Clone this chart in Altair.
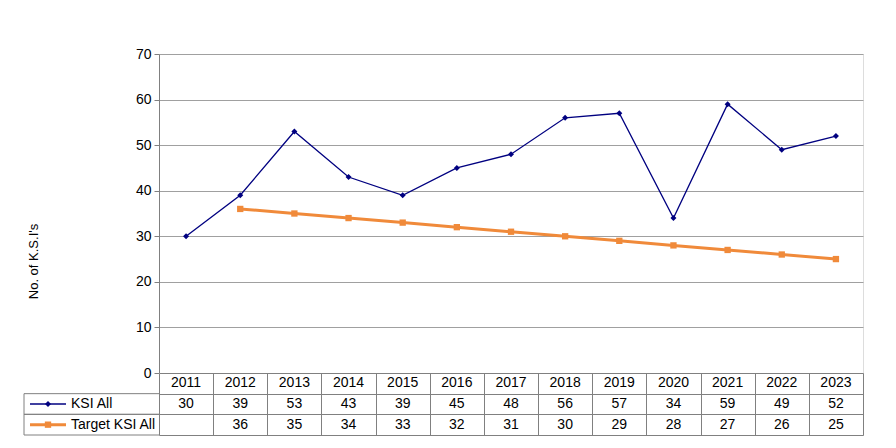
import altair as alt
import pandas as pd

years = [2011, 2012, 2013, 2014, 2015, 2016, 2017, 2018, 2019, 2020, 2021, 2022, 2023]
ksi_all = [30, 39, 53, 43, 39, 45, 48, 56, 57, 34, 59, 49, 52]
target_ksi = [None, 36, 35, 34, 33, 32, 31, 30, 29, 28, 27, 26, 25]
series_names = ["KSI All", "Target KSI All"]
y_ticks = [0, 10, 20, 30, 40, 50, 60, 70]

NAVY = "#000080"
ORANGE = "#F08A3A"
FONT = "Liberation Sans"
GRID = "#A0A0A0"
BORDER = "#808080"

W = 704
H = 319
TH = 62

df = pd.DataFrame({"year": [str(y) for y in years], "ksi": ksi_all, "target": target_ksi})

xpt = alt.Scale(type="point", padding=0.5)

ksi_line = alt.Chart(df).mark_line(
    color=NAVY, strokeWidth=1.3,
    point=alt.OverlayMarkDef(shape="diamond", size=36, filled=True, color=NAVY, opacity=1),
).encode(
    x=alt.X("year:O", scale=xpt, axis=None),
    y=alt.Y("ksi:Q", scale=alt.Scale(domain=[0, 70], nice=False),
            axis=alt.Axis(values=y_ticks, grid=True, gridColor=GRID, domainColor=BORDER,
                          tickColor=BORDER, tickSize=5, labelFont=FONT, labelFontSize=14,
                          labelColor="#000000", labelPadding=3,
                          title="No. of K.S.I's", titleFont=FONT, titleFontSize=13,
                          titleFontWeight="normal", titleColor="#000000",
                          titleAngle=270, titleX=-126, titleY=207, titleAlign="center",
                          titleBaseline="middle")),
)

target_line = alt.Chart(df).transform_filter("isValid(datum.target)").mark_line(
    color=ORANGE, strokeWidth=3,
    point=alt.OverlayMarkDef(shape="square", size=40, filled=True, color=ORANGE, opacity=1),
).encode(
    x=alt.X("year:O", scale=xpt),
    y=alt.Y("target:Q"),
)

top = alt.layer(ksi_line, target_line).properties(width=W, height=H)

# table data
rows = []
for i, y in enumerate(years):
    rows.append({"year": str(y), "row": "h", "text": str(y)})
    rows.append({"year": str(y), "row": "k", "text": str(ksi_all[i])})
    rows.append({"year": str(y), "row": "t", "text": "" if target_ksi[i] is None else str(target_ksi[i])})
tdf = pd.DataFrame(rows)

row_order = ["h", "k", "t"]
yband = alt.Scale(domain=row_order, paddingInner=0, paddingOuter=0)
xband = alt.Scale(type="band", paddingInner=0, paddingOuter=0)

cells = alt.Chart(tdf).mark_text(font=FONT, fontSize=14, color="#000000", baseline="middle").encode(
    x=alt.X("year:O", scale=xband,
            axis=alt.Axis(labels=False, ticks=False, domain=False, grid=True, tickBand="extent",
                          gridColor=BORDER, gridOpacity=1, title=None)),
    y=alt.Y("row:N", scale=yband, sort=row_order,
            axis=alt.Axis(labels=False, ticks=False, domain=False, grid=True, tickBand="extent",
                          gridColor=BORDER, gridOpacity=1, title=None)),
    text="text:N",
)

ldf = pd.DataFrame({"row": ["k", "t"], "name": series_names,
                    "color": [NAVY, ORANGE], "shape": ["diamond", "square"]})

leg_top = alt.Chart(ldf).mark_rule(color=BORDER, strokeWidth=1).encode(
    y=alt.Y("row:N", scale=yband, sort=row_order, bandPosition=0),
    x=alt.value(-135), x2=alt.value(0),
)
leg_bot = alt.Chart(ldf).mark_rule(color=BORDER, strokeWidth=1).encode(
    y=alt.Y("row:N", scale=yband, sort=row_order, bandPosition=1),
    x=alt.value(-135), x2=alt.value(0),
)
leg_vert = alt.Chart(ldf.head(1)).mark_rule(color=BORDER, strokeWidth=1).encode(
    x=alt.value(-135), y=alt.value(TH / 3), y2=alt.value(TH),
)
leg_line = alt.Chart(ldf).mark_rule().encode(
    y=alt.Y("row:N", scale=yband, sort=row_order),
    x=alt.value(-129), x2=alt.value(-93),
    color=alt.Color("color:N", scale=None),
    strokeWidth=alt.StrokeWidth("row:N", scale=alt.Scale(domain=["k", "t"], range=[1.3, 3]), legend=None),
)
leg_pt = alt.Chart(ldf).mark_point(filled=True, opacity=1).encode(
    y=alt.Y("row:N", scale=yband, sort=row_order),
    x=alt.value(-111),
    color=alt.Color("color:N", scale=None),
    shape=alt.Shape("shape:N", scale=None),
    size=alt.Size("row:N", scale=alt.Scale(domain=["k", "t"], range=[36, 40]), legend=None),
)
leg_txt = alt.Chart(ldf).mark_text(font=FONT, fontSize=14, color="#000000", align="left",
                                   baseline="middle").encode(
    y=alt.Y("row:N", scale=yband, sort=row_order),
    x=alt.value(-88),
    text="name:N",
)

table = alt.layer(cells, leg_top, leg_bot, leg_vert, leg_line, leg_pt, leg_txt).properties(
    width=W, height=TH)

chart = alt.vconcat(top, table, spacing=0, bounds="flush").resolve_scale(
    x="independent", y="independent", color="independent", shape="independent",
    size="independent", strokeWidth="independent"
).properties(
    padding={"left": 15, "top": 38, "right": 5, "bottom": 5}
).configure_view(stroke=None).configure(background="#FFFFFF")

chart.save("out.html", embed_options={"renderer": "svg", "actions": False})
